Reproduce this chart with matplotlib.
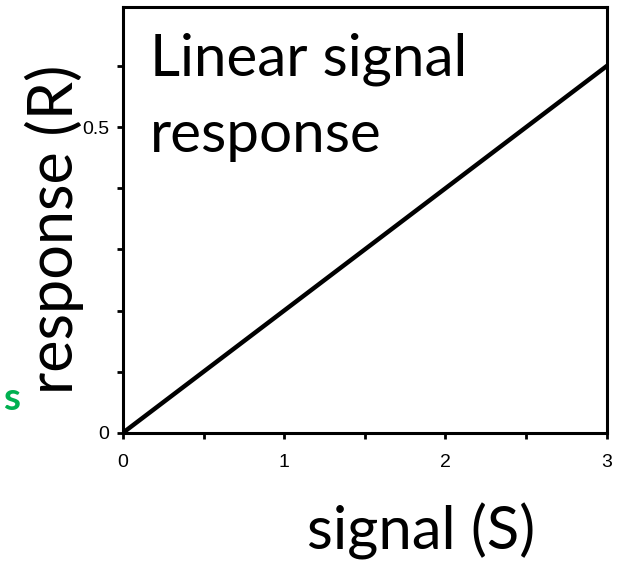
import matplotlib.pyplot as plt

# data: linear response R = 0.2 * S
signal = [0, 0.5, 1, 1.5, 2, 2.5, 3]
response = [0, 0.1, 0.2, 0.3, 0.4, 0.5, 0.6]

xticks = [0, 0.5, 1, 1.5, 2, 2.5, 3]
xticklabels = ['0', '', '1', '', '2', '', '3']
yticks = [0, 0.1, 0.2, 0.3, 0.4, 0.5, 0.6]
yticklabels = ['0', '', '', '', '', '0.5', '']

big = ['Lato', 'DejaVu Sans']

fig = plt.figure(figsize=(6.21, 5.65), dpi=100)
ax = fig.add_axes([0.198, 0.234, 0.779, 0.754])

ax.plot(signal, response, color='black', linewidth=3.2)
ax.set_xlim(0, 3)
ax.set_ylim(0, 0.697)

ax.set_xticks(xticks)
ax.set_xticklabels(xticklabels, fontsize=14, family='Liberation Sans')
ax.set_yticks(yticks)
ax.set_yticklabels(yticklabels, fontsize=14, family='Liberation Sans')
ax.tick_params(direction='out', length=4, width=2)
ax.tick_params(axis='x', pad=11)
ax.tick_params(axis='y', pad=6)
for s in ax.spines.values():
    s.set_linewidth(2.2)

ax.set_xlabel('signal (S)', fontsize=43, family=big)
ax.xaxis.set_label_coords(0.616, -0.165)
ax.set_ylabel('response (R)', fontsize=44, family=big)
ax.yaxis.set_label_coords(-0.08, 0.477)

ax.text(0.055, 0.94, 'Linear signal\nresponse', transform=ax.transAxes,
        fontsize=42, family=big, va='top', ha='left', linespacing=1.55)

fig.text(0.005, 0.274, 's', color='#00b050', fontsize=28, fontweight='bold', family=big)

plt.savefig('out.png', dpi=100)
